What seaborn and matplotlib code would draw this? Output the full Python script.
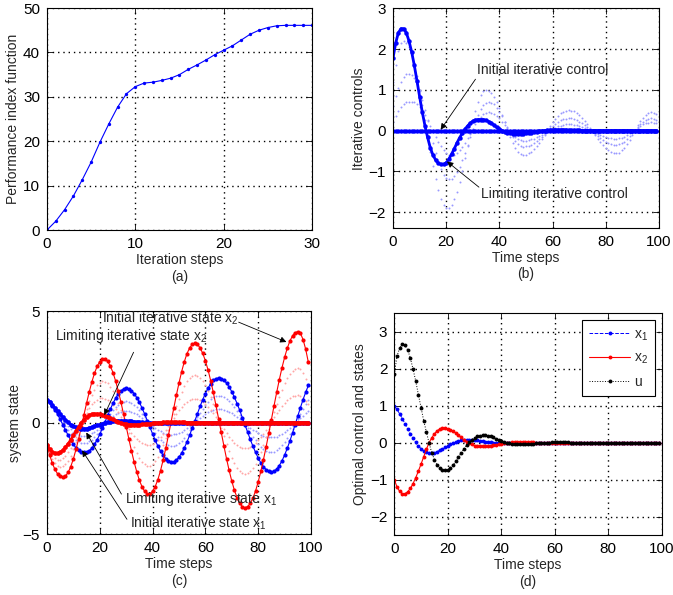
import numpy as np
import matplotlib
matplotlib.use("Agg")
import matplotlib.pyplot as plt
import seaborn as sns

# Style: MATLAB-like boxed axes with dotted grid
sns.set_style("ticks")
plt.rcParams['font.family'] = ['Liberation Sans', 'DejaVu Sans']
plt.rcParams['mathtext.fontset'] = 'custom'
plt.rcParams['mathtext.rm'] = 'Liberation Sans'
plt.rcParams['mathtext.it'] = 'Liberation Sans'
plt.rcParams['mathtext.default'] = 'regular'

# ---------------- data ----------------
iteration_steps = list(range(31))
performance_index = [0, 2.0, 4.6, 7.7, 11.35, 15.3, 19.8, 23.9, 27.7, 30.7,
                     32.3, 33.1, 33.3, 33.7, 34.2, 35.0, 36.2, 37.2, 38.3, 39.5,
                     40.5, 41.5, 42.8, 44.1, 45.0, 45.6, 46.0, 46.1, 46.1, 46.1, 46.1]

time_steps = list(range(100))

# (b) controls
u_initial = [0.0] * 100
u_limit = [1.78, 2.15, 2.40, 2.50, 2.50, 2.40, 2.20, 1.93, 1.60, 1.22,
           0.83, 0.45, 0.12, -0.17, -0.42, -0.60, -0.72, -0.80, -0.83, -0.83,
           -0.79, -0.70, -0.58, -0.45, -0.31, -0.18, -0.07, 0.03, 0.11, 0.18,
           0.23, 0.26, 0.27, 0.27, 0.27, 0.25, 0.22, 0.18, 0.13, 0.08,
           0.04, 0.00, -0.03, -0.05, -0.07, -0.08, -0.08, -0.08, -0.08, -0.08,
           -0.07, -0.06, -0.05, -0.04, -0.03, -0.02, -0.01, 0.00, 0.01, 0.01,
           0.02, 0.02, 0.02, 0.02, 0.02, 0.02, 0.01, 0.01, 0.01, 0.01,
           0.01, 0.00, 0.00, 0.00, 0.00, 0.00, 0.00, 0.00, 0.00, 0.00,
           0.00, 0.00, 0.00, 0.00, 0.00, 0.00, 0.00, 0.00, 0.00, 0.00,
           0.00, 0.00, 0.00, 0.00, 0.00, 0.00, 0.00, 0.00, 0.00, 0.00]
u_iter_1 = [1.20, 1.60, 1.95, 2.15, 2.20, 2.16, 2.05, 1.87, 1.63, 1.34,
            1.00, 0.63, 0.25, -0.14, -0.52, -0.88, -1.19, -1.46, -1.67, -1.82,
            -1.89, -1.89, -1.82, -1.69, -1.50, -1.26, -0.99, -0.68, -0.37, -0.06,
            0.23, 0.49, 0.71, 0.87, 0.97, 1.00, 0.98, 0.92, 0.83, 0.70,
            0.55, 0.38, 0.20, 0.02, -0.15, -0.30, -0.43, -0.52, -0.58, -0.60,
            -0.59, -0.56, -0.52, -0.46, -0.38, -0.30, -0.20, -0.10, 0.00, 0.10,
            0.20, 0.28, 0.36, 0.42, 0.46, 0.49, 0.50, 0.49, 0.47, 0.43,
            0.38, 0.31, 0.24, 0.15, 0.07, -0.03, -0.12, -0.20, -0.29, -0.36,
            -0.43, -0.48, -0.52, -0.54, -0.55, -0.54, -0.49, -0.42, -0.33, -0.23,
            -0.11, 0.01, 0.13, 0.23, 0.32, 0.39, 0.44, 0.45, 0.44, 0.40]
u_iter_2 = [0.60, 0.85, 1.05, 1.20, 1.31, 1.38, 1.40, 1.37, 1.29, 1.15,
            0.97, 0.75, 0.50, 0.24, -0.04, -0.30, -0.55, -0.77, -0.95, -1.09,
            -1.17, -1.20, -1.18, -1.12, -1.02, -0.89, -0.73, -0.54, -0.35, -0.15,
            0.04, 0.23, 0.39, 0.52, 0.62, 0.68, 0.70, 0.68, 0.64, 0.56,
            0.46, 0.35, 0.22, 0.08, -0.05, -0.16, -0.26, -0.34, -0.38, -0.40,
            -0.39, -0.38, -0.35, -0.31, -0.26, -0.21, -0.15, -0.08, -0.02, 0.05,
            0.11, 0.16, 0.21, 0.25, 0.28, 0.29, 0.30, 0.30, 0.28, 0.26,
            0.22, 0.18, 0.14, 0.09, 0.03, -0.03, -0.08, -0.14, -0.19, -0.23,
            -0.27, -0.31, -0.33, -0.35, -0.35, -0.34, -0.31, -0.27, -0.21, -0.14,
            -0.06, 0.01, 0.09, 0.16, 0.22, 0.26, 0.29, 0.30, 0.29, 0.27]
u_iter_3 = [0.20, 0.35, 0.48, 0.58, 0.65, 0.69, 0.70, 0.70, 0.69, 0.64,
            0.58, 0.48, 0.38, 0.25, 0.12, -0.02, -0.15, -0.28, -0.38, -0.48,
            -0.54, -0.59, -0.60, -0.59, -0.55, -0.49, -0.40, -0.30, -0.19, -0.08,
            0.04, 0.15, 0.25, 0.34, 0.40, 0.44, 0.45, 0.44, 0.41, 0.36,
            0.30, 0.22, 0.14, 0.06, -0.02, -0.10, -0.16, -0.21, -0.24, -0.25,
            -0.25, -0.24, -0.22, -0.20, -0.17, -0.14, -0.10, -0.07, -0.03, 0.00,
            0.04, 0.07, 0.10, 0.12, 0.14, 0.15, 0.15, 0.15, 0.14, 0.13,
            0.11, 0.09, 0.06, 0.03, 0.01, -0.03, -0.06, -0.09, -0.11, -0.14,
            -0.16, -0.18, -0.19, -0.20, -0.20, -0.19, -0.18, -0.15, -0.11, -0.07,
            -0.02, 0.02, 0.07, 0.11, 0.15, 0.18, 0.19, 0.20, 0.19, 0.18]

# (c) states
x1_initial = [1.00, 0.90, 0.76, 0.58, 0.37, 0.14, -0.10, -0.34, -0.57, -0.79,
              -0.98, -1.14, -1.25, -1.31, -1.33, -1.32, -1.26, -1.15, -0.98, -0.77,
              -0.53, -0.25, 0.03, 0.32, 0.60, 0.86, 1.09, 1.28, 1.42, 1.51,
              1.54, 1.51, 1.43, 1.30, 1.12, 0.91, 0.65, 0.38, 0.08, -0.21,
              -0.51, -0.79, -1.06, -1.28, -1.47, -1.62, -1.71, -1.76, -1.75, -1.68,
              -1.55, -1.37, -1.14, -0.88, -0.58, -0.26, 0.07, 0.40, 0.73, 1.03,
              1.30, 1.54, 1.74, 1.89, 1.97, 2.00, 1.97, 1.90, 1.77, 1.60,
              1.38, 1.13, 0.85, 0.55, 0.22, -0.11, -0.43, -0.76, -1.06, -1.34,
              -1.59, -1.81, -1.98, -2.11, -2.18, -2.21, -2.18, -2.09, -1.93, -1.72,
              -1.46, -1.16, -0.83, -0.47, -0.09, 0.29, 0.67, 1.03, 1.36, 1.66]
x2_initial = [-1.00, -1.45, -1.82, -2.10, -2.30, -2.42, -2.45, -2.40, -2.24, -1.98,
              -1.63, -1.20, -0.73, -0.20, 0.34, 0.87, 1.37, 1.82, 2.21, 2.52,
              2.73, 2.84, 2.84, 2.74, 2.53, 2.24, 1.86, 1.42, 0.92, 0.38,
              -0.18, -0.73, -1.27, -1.77, -2.21, -2.59, -2.88, -3.09, -3.19, -3.19,
              -3.08, -2.87, -2.56, -2.16, -1.68, -1.15, -0.58, 0.02, 0.63, 1.22,
              1.77, 2.28, 2.72, 3.08, 3.34, 3.50, 3.55, 3.50, 3.35, 3.10,
              2.77, 2.36, 1.88, 1.35, 0.77, 0.17, -0.44, -1.04, -1.62, -2.15,
              -2.63, -3.04, -3.37, -3.62, -3.77, -3.82, -3.77, -3.63, -3.39, -3.07,
              -2.66, -2.19, -1.66, -1.09, -0.49, 0.13, 0.75, 1.35, 1.92, 2.45,
              2.92, 3.33, 3.65, 3.89, 4.03, 4.08, 4.00, 3.72, 3.28, 2.70]
x1_iter_1 = [1.00, 0.90, 0.77, 0.61, 0.43, 0.23, 0.04, -0.16, -0.34, -0.51,
             -0.65, -0.77, -0.85, -0.90, -0.91, -0.90, -0.85, -0.77, -0.66, -0.51,
             -0.35, -0.17, 0.01, 0.20, 0.38, 0.54, 0.68, 0.80, 0.88, 0.94,
             0.95, 0.93, 0.88, 0.80, 0.68, 0.55, 0.39, 0.23, 0.04, -0.13,
             -0.31, -0.48, -0.64, -0.78, -0.89, -0.98, -1.03, -1.06, -1.05, -1.01,
             -0.93, -0.83, -0.69, -0.53, -0.35, -0.16, 0.04, 0.24, 0.44, 0.62,
             0.78, 0.92, 1.04, 1.13, 1.18, 1.20, 1.18, 1.14, 1.06, 0.96,
             0.83, 0.68, 0.51, 0.33, 0.13, -0.07, -0.26, -0.46, -0.64, -0.80,
             -0.95, -1.09, -1.19, -1.27, -1.31, -1.33, -1.31, -1.25, -1.16, -1.03,
             -0.88, -0.70, -0.50, -0.28, -0.05, 0.17, 0.40, 0.62, 0.82, 1.00]
x1_iter_2 = [1.00, 0.90, 0.77, 0.63, 0.47, 0.30, 0.14, -0.02, -0.16, -0.30,
             -0.41, -0.50, -0.56, -0.59, -0.60, -0.59, -0.55, -0.49, -0.41, -0.32,
             -0.22, -0.11, 0.00, 0.10, 0.21, 0.30, 0.38, 0.44, 0.48, 0.51,
             0.51, 0.50, 0.46, 0.42, 0.36, 0.29, 0.20, 0.11, 0.02, -0.07,
             -0.17, -0.25, -0.33, -0.40, -0.46, -0.50, -0.53, -0.54, -0.53, -0.51,
             -0.47, -0.42, -0.35, -0.26, -0.17, -0.08, 0.02, 0.12, 0.22, 0.31,
             0.39, 0.46, 0.52, 0.57, 0.59, 0.60, 0.59, 0.57, 0.53, 0.48,
             0.41, 0.34, 0.26, 0.17, 0.07, -0.03, -0.13, -0.23, -0.32, -0.40,
             -0.48, -0.54, -0.59, -0.63, -0.65, -0.66, -0.65, -0.63, -0.58, -0.52,
             -0.44, -0.35, -0.25, -0.14, -0.03, 0.09, 0.20, 0.31, 0.41, 0.50]
x2_iter_1 = [-1.00, -1.35, -1.62, -1.81, -1.93, -1.98, -1.97, -1.88, -1.72, -1.50,
             -1.21, -0.87, -0.51, -0.12, 0.26, 0.62, 0.95, 1.24, 1.48, 1.67,
             1.79, 1.84, 1.83, 1.75, 1.60, 1.40, 1.15, 0.86, 0.54, 0.21,
             -0.14, -0.47, -0.80, -1.10, -1.37, -1.59, -1.76, -1.88, -1.94, -1.93,
             -1.86, -1.73, -1.54, -1.30, -1.00, -0.69, -0.34, 0.02, 0.39, 0.74,
             1.07, 1.37, 1.64, 1.85, 2.00, 2.10, 2.13, 2.10, 2.01, 1.86,
             1.66, 1.42, 1.13, 0.81, 0.46, 0.10, -0.26, -0.62, -0.97, -1.29,
             -1.58, -1.82, -2.02, -2.17, -2.26, -2.29, -2.26, -2.18, -2.03, -1.84,
             -1.60, -1.31, -1.00, -0.65, -0.29, 0.08, 0.45, 0.81, 1.15, 1.47,
             1.75, 2.00, 2.19, 2.33, 2.42, 2.45, 2.40, 2.23, 1.97, 1.62]
x2_iter_2 = [-1.00, -1.28, -1.47, -1.60, -1.66, -1.66, -1.60, -1.50, -1.34, -1.13,
             -0.90, -0.63, -0.35, -0.06, 0.19, 0.43, 0.64, 0.81, 0.94, 1.03,
             1.09, 1.10, 1.07, 1.00, 0.90, 0.77, 0.61, 0.45, 0.26, 0.08,
             -0.11, -0.28, -0.45, -0.60, -0.73, -0.84, -0.92, -0.98, -1.00, -0.99,
             -0.95, -0.88, -0.77, -0.65, -0.50, -0.34, -0.17, 0.02, 0.20, 0.37,
             0.54, 0.69, 0.82, 0.92, 1.00, 1.05, 1.07, 1.05, 1.01, 0.93,
             0.83, 0.71, 0.56, 0.41, 0.23, 0.05, -0.13, -0.31, -0.49, -0.65,
             -0.79, -0.91, -1.01, -1.09, -1.13, -1.15, -1.13, -1.09, -1.02, -0.92,
             -0.80, -0.66, -0.50, -0.33, -0.15, 0.04, 0.23, 0.41, 0.58, 0.74,
             0.88, 1.00, 1.10, 1.17, 1.21, 1.22, 1.20, 1.12, 0.98, 0.81]

# (d) optimal (limiting) trajectories, also the limiting states in (c)
x1_opt = [1.00, 0.90, 0.78, 0.65, 0.51, 0.37, 0.24, 0.12, 0.01, -0.09,
          -0.16, -0.22, -0.26, -0.28, -0.28, -0.27, -0.24, -0.21, -0.17, -0.13,
          -0.09, -0.05, -0.02, 0.01, 0.04, 0.06, 0.07, 0.08, 0.08, 0.08,
          0.07, 0.06, 0.05, 0.04, 0.03, 0.02, 0.01, 0.00, -0.01, -0.01,
          -0.02, -0.02, -0.02, -0.02, -0.02, -0.02, -0.02, -0.01, -0.01, -0.01,
          -0.01, -0.01, -0.01, 0.00, 0.00, 0.00, 0.00, 0.00, 0.00, 0.00,
          0.00, 0.00, 0.00, 0.00, 0.00, 0.00, 0.00, 0.00, 0.00, 0.00,
          0.00, 0.00, 0.00, 0.00, 0.00, 0.00, 0.00, 0.00, 0.00, 0.00,
          0.00, 0.00, 0.00, 0.00, 0.00, 0.00, 0.00, 0.00, 0.00, 0.00,
          0.00, 0.00, 0.00, 0.00, 0.00, 0.00, 0.00, 0.00, 0.00, 0.00]
x2_opt = [-1.00, -1.20, -1.32, -1.38, -1.38, -1.33, -1.24, -1.11, -0.95, -0.77,
          -0.58, -0.38, -0.18, 0.00, 0.13, 0.24, 0.32, 0.37, 0.39, 0.39,
          0.38, 0.35, 0.31, 0.26, 0.20, 0.14, 0.08, 0.03, -0.02, -0.05,
          -0.08, -0.09, -0.10, -0.10, -0.10, -0.09, -0.08, -0.07, -0.06, -0.05,
          -0.03, -0.02, -0.01, 0.00, 0.01, 0.01, 0.01, 0.02, 0.02, 0.01,
          0.01, 0.01, 0.01, 0.00, 0.00, 0.00, 0.00, 0.00, 0.00, 0.00,
          0.00, 0.00, 0.00, 0.00, 0.00, 0.00, 0.00, 0.00, 0.00, 0.00,
          0.00, 0.00, 0.00, 0.00, 0.00, 0.00, 0.00, 0.00, 0.00, 0.00,
          0.00, 0.00, 0.00, 0.00, 0.00, 0.00, 0.00, 0.00, 0.00, 0.00,
          0.00, 0.00, 0.00, 0.00, 0.00, 0.00, 0.00, 0.00, 0.00, 0.00]
u_opt = [1.85, 2.34, 2.56, 2.67, 2.63, 2.51, 2.29, 1.99, 1.67, 1.30,
         0.95, 0.59, 0.29, -0.01, -0.27, -0.46, -0.60, -0.69, -0.74, -0.75,
         -0.73, -0.68, -0.60, -0.50, -0.39, -0.28, -0.17, -0.07, 0.01, 0.08,
         0.13, 0.17, 0.19, 0.20, 0.20, 0.19, 0.17, 0.14, 0.11, 0.08,
         0.05, 0.02, 0.00, -0.02, -0.03, -0.04, -0.05, -0.05, -0.05, -0.05,
         -0.04, -0.04, -0.03, -0.02, -0.02, -0.01, -0.01, 0.00, 0.00, 0.01,
         0.01, 0.01, 0.01, 0.01, 0.01, 0.01, 0.00, 0.00, 0.00, 0.00,
         0.00, 0.00, 0.00, 0.00, 0.00, 0.00, 0.00, 0.00, 0.00, 0.00,
         0.00, 0.00, 0.00, 0.00, 0.00, 0.00, 0.00, 0.00, 0.00, 0.00,
         0.00, 0.00, 0.00, 0.00, 0.00, 0.00, 0.00, 0.00, 0.00, 0.00]

BLUE = (0, 0, 1)
RED = (1, 0, 0)
LIGHT_BLUE = (0.6, 0.6, 1.0)
LIGHT_RED = (1.0, 0.65, 0.65)


def style_axes(ax, xlim, ylim, xticks, yticks):
    ax.set_xlim(xlim)
    ax.set_ylim(ylim)
    ax.set_xticks(xticks)
    ax.set_yticks(yticks)
    ax.tick_params(direction='in', length=4, width=0.6, top=True, right=True,
                   labelsize=11, pad=5, colors='black')
    for s in ax.spines.values():
        s.set_visible(True)
        s.set_linewidth(0.8)
        s.set_color('black')
    ax.grid(True, color='black', linewidth=1.0, linestyle=(0, (1, 2.8)))
    ax.set_axisbelow(True)


def labels(ax, xlabel, ylabel, tag, ylab_x):
    ax.set_xlabel(xlabel, fontsize=10)
    ax.xaxis.label.set_va('center')
    ax.xaxis.set_label_coords(0.5, -0.133)
    ax.set_ylabel(ylabel, fontsize=10)
    ax.yaxis.label.set_va('center')
    ax.yaxis.set_label_coords(ylab_x, 0.5)
    ax.text(0.5, -0.21, tag, transform=ax.transAxes, ha='center', va='center', fontsize=10)


def arrow(ax, tail, head):
    ax.annotate('', xy=head, xytext=tail,
                arrowprops=dict(arrowstyle='-|>', color='black', lw=0.6,
                                mutation_scale=9, shrinkA=0, shrinkB=0))


fig = plt.figure(figsize=(6.73, 5.95), dpi=100)

# ---------------- (a) ----------------
ax = fig.add_axes([0.0698, 0.6134, 0.3938, 0.3731])
sns.lineplot(x=iteration_steps, y=performance_index, ax=ax, color=BLUE, lw=0.8,
             marker='o', markersize=2.4, markeredgewidth=0)
style_axes(ax, (0, 30), (0, 50), [0, 10, 20, 30], [0, 10, 20, 30, 40, 50])
labels(ax, 'Iteration steps', 'Performance index function', '(a)', -0.129)

# ---------------- (b) ----------------
ax = fig.add_axes([0.584, 0.6163, 0.3952, 0.3697])
for it in [u_iter_1, u_iter_2, u_iter_3]:
    sns.scatterplot(x=time_steps, y=it, ax=ax, color=LIGHT_BLUE, s=2, linewidth=0)
sns.lineplot(x=time_steps, y=u_initial, ax=ax, color=BLUE, lw=2.0,
             marker='o', markersize=3.2, markeredgewidth=0)
sns.lineplot(x=time_steps, y=u_limit, ax=ax, color=BLUE, lw=2.0,
             marker='o', markersize=3.2, markeredgewidth=0)
style_axes(ax, (0, 100), (-2.4, 3), [0, 20, 40, 60, 80, 100], [-2, -1, 0, 1, 2, 3])
labels(ax, 'Time steps', 'Iterative controls', '(b)', -0.129)
ax.text(31.5, 1.49, 'Initial iterative control', fontsize=10, va='center', ha='left')
arrow(ax, (31, 1.26), (17.9, 0.02))
ax.text(33.2, -1.55, 'Limiting iterative control', fontsize=10, va='center', ha='left')
arrow(ax, (32.3, -1.39), (20.3, -0.76))

# ---------------- (c) ----------------
ax = fig.add_axes([0.0698, 0.1025, 0.3923, 0.3748])
for it in [x1_iter_1, x1_iter_2]:
    sns.scatterplot(x=time_steps, y=it, ax=ax, color=LIGHT_BLUE, s=2, linewidth=0)
for it in [x2_iter_1, x2_iter_2]:
    sns.scatterplot(x=time_steps, y=it, ax=ax, color=LIGHT_RED, s=2, linewidth=0)
sns.lineplot(x=time_steps, y=x1_initial, ax=ax, color=BLUE, lw=0.8,
             marker='o', markersize=3.0, markeredgewidth=0)
sns.lineplot(x=time_steps, y=x2_initial, ax=ax, color=RED, lw=0.8,
             marker='o', markersize=3.0, markeredgewidth=0)
sns.lineplot(x=time_steps, y=x1_opt, ax=ax, color=BLUE, lw=1.8,
             marker='o', markersize=3.4, markeredgewidth=0)
sns.lineplot(x=time_steps, y=x2_opt, ax=ax, color=RED, lw=1.8,
             marker='o', markersize=3.4, markeredgewidth=0)
style_axes(ax, (0, 100), (-5, 5), [0, 20, 40, 60, 80, 100], [-5, 0, 5])
labels(ax, 'Time steps', 'system state', '(c)', -0.121)
ax.text(20.8, 4.67, 'Initial iterative state x$_2$', fontsize=10, va='center', ha='left')
arrow(ax, (72.6, 4.5), (90.7, 3.61))
ax.text(2.9, 3.88, 'Limiting iterative state x$_2$', fontsize=10, va='center', ha='left')
arrow(ax, (32.8, 3.15), (21.7, 0.33))
ax.text(29.7, -3.42, 'Limiting iterative state x$_1$', fontsize=10, va='center', ha='left')
arrow(ax, (28.2, -3.21), (14.9, -0.45))
ax.text(31.6, -4.52, 'Initial iterative state x$_1$', fontsize=10, va='center', ha='left')
arrow(ax, (30.3, -4.34), (13.3, -1.25))

# ---------------- (d) ----------------
ax = fig.add_axes([0.5859, 0.1008, 0.3973, 0.3726])
sns.lineplot(x=time_steps, y=x1_opt, ax=ax, color=BLUE, lw=0.7, linestyle='--',
             marker='o', markersize=2.8, markeredgewidth=0, label='x$_1$')
sns.lineplot(x=time_steps, y=x2_opt, ax=ax, color=RED, lw=0.8, linestyle='-',
             marker='o', markersize=2.8, markeredgewidth=0, label='x$_2$')
sns.lineplot(x=time_steps, y=u_opt, ax=ax, color='black', lw=0.7, linestyle=':',
             marker='o', markersize=2.8, markeredgewidth=0, label='u')
style_axes(ax, (0, 100), (-2.5, 3.5), [0, 20, 40, 60, 80, 100], [-2, -1, 0, 1, 2, 3])
labels(ax, 'Time steps', 'Optimal control and states', '(d)', -0.128)
leg = ax.legend(loc='upper right', fontsize=10, frameon=True, fancybox=False,
                edgecolor='black', framealpha=1, handlelength=2.9, handletextpad=0.3,
                labelspacing=0.6, borderpad=0.55, borderaxespad=0.45)
leg.get_frame().set_linewidth(0.8)

fig.savefig('out.png', dpi=100)
